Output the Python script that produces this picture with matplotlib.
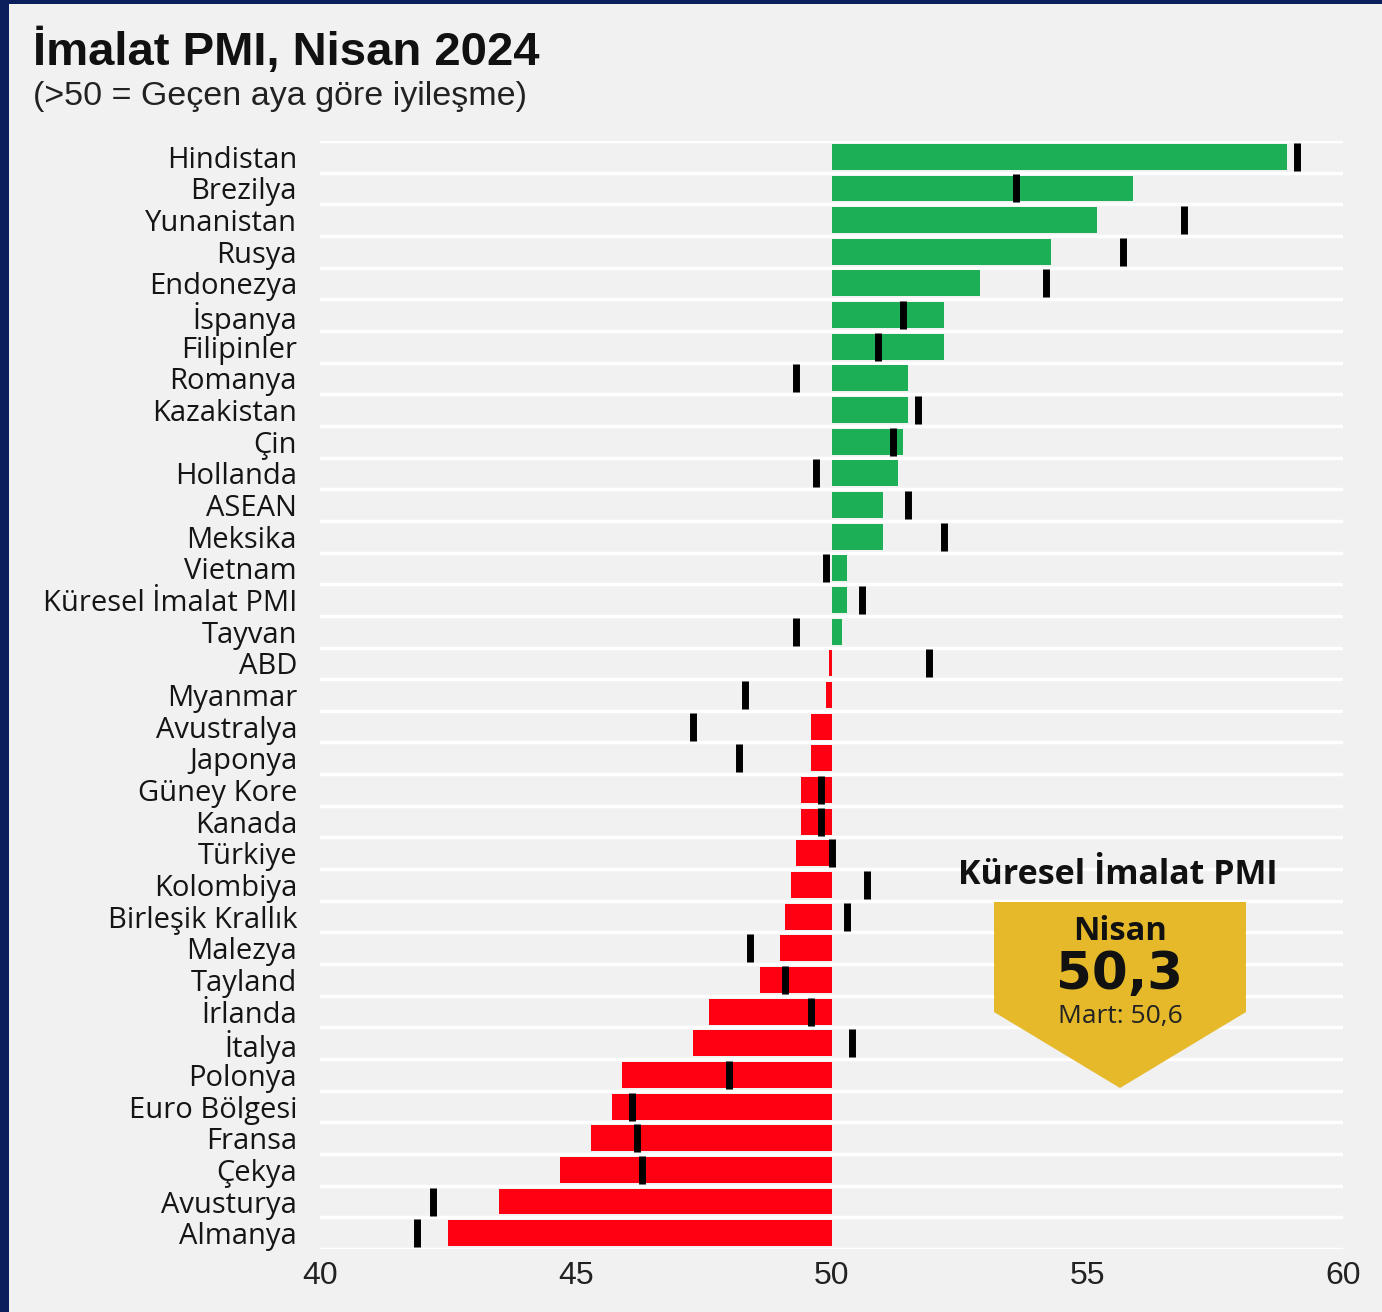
import matplotlib.pyplot as plt
from matplotlib.patches import Polygon, Rectangle
import numpy as np

countries = ["Hindistan", "Brezilya", "Yunanistan", "Rusya", "Endonezya", "İspanya",
             "Filipinler", "Romanya", "Kazakistan", "Çin", "Hollanda", "ASEAN", "Meksika",
             "Vietnam", "Küresel İmalat PMI", "Tayvan", "ABD", "Myanmar", "Avustralya",
             "Japonya", "Güney Kore", "Kanada", "Türkiye", "Kolombiya", "Birleşik Krallık",
             "Malezya", "Tayland", "İrlanda", "İtalya", "Polonya", "Euro Bölgesi", "Fransa",
             "Çekya", "Avusturya", "Almanya"]
april = [58.9, 55.9, 55.2, 54.3, 52.9, 52.2, 52.2, 51.5, 51.5, 51.4, 51.3, 51.0, 51.0,
         50.3, 50.3, 50.2, 49.95, 49.9, 49.6, 49.6, 49.4, 49.4, 49.3, 49.2, 49.1,
         49.0, 48.6, 47.6, 47.3, 45.9, 45.7, 45.3, 44.7, 43.5, 42.5]
march = [59.1, 53.6, 56.9, 55.7, 54.2, 51.4, 50.9, 49.3, 51.7, 51.2, 49.7, 51.5, 52.2,
         49.9, 50.6, 49.3, 51.9, 48.3, 47.3, 48.2, 49.8, 49.8, 50.0, 50.7, 50.3,
         48.4, 49.1, 49.6, 50.4, 48.0, 46.1, 46.2, 46.3, 42.2, 41.9]
xticks = [40, 45, 50, 55, 60]

GREEN = "#1caf55"
RED = "#fe0012"
BG = "#f1f1f1"
NAVY = "#0b1f5c"
label_font = ["Open Sans", "DejaVu Sans"]
cond_font = ["Liberation Sans Narrow", "Liberation Sans", "DejaVu Sans"]

W, H = 1382, 1312
fig = plt.figure(figsize=(W / 100, H / 100), dpi=100, facecolor=NAVY)
fig.patches.append(Rectangle((9 / W, 0), 1, 1 - 4 / H, transform=fig.transFigure,
                             facecolor=BG, edgecolor="none", zorder=-10))

ax = fig.add_axes([320 / W, 1 - 1249 / H, (1343 - 320) / W, (1249 - 141) / H])
ax.set_facecolor(BG)
y = np.arange(len(countries))
a = np.array(april)
colors = [GREEN if v >= 50 else RED for v in a]
ax.barh(y, a - 50, left=50, height=0.82, color=colors, zorder=2)
ax.plot(march, y, linestyle="none", marker="|", markersize=19.5,
        markeredgewidth=5, color="black", zorder=3)

for b in np.arange(-0.5, len(countries), 1.0):
    ax.axhline(b, color="white", lw=2.5, zorder=1)

ax.set_xlim(40, 60)
ax.set_ylim(len(countries) - 0.5, -0.5)
ax.set_xticks(xticks)
ax.set_xticklabels([str(t) for t in xticks], family=cond_font, fontsize=23, color="#222222")
ax.set_yticks(y)
ax.set_yticklabels(countries, family=label_font, fontsize=21, color="#151515")
ax.tick_params(axis="both", length=0)
ax.tick_params(axis="x", pad=9)
ax.tick_params(axis="y", pad=16.5)
for s in ax.spines.values():
    s.set_visible(False)

fig.text(33 / W, 1 - 52 / H, "İmalat PMI, Nisan 2024", family=cond_font,
         fontsize=34, fontweight="bold", va="center", ha="left", color="#111111")
fig.text(33 / W, 1 - 97 / H, "(>50 = Geçen aya göre iyileşme)", family=cond_font,
         fontsize=24.5, va="center", ha="left", color="#222222")

# Global PMI callout
fig.text(1118 / W, 1 - 875 / H, "Küresel İmalat PMI", family=label_font,
         fontsize=24.5, fontweight="bold", ha="center", va="center", color="#111111")
pts = [(994, 902), (1246, 902), (1246, 1012), (1120, 1088), (994, 1012)]
fig.patches.append(Polygon([(px / W, 1 - py / H) for px, py in pts], closed=True,
                           transform=fig.transFigure, facecolor="#e6b92a",
                           edgecolor="none", zorder=5))
fig.text(1120 / W, 1 - 932 / H, "Nisan", family=label_font, fontsize=23.5,
         fontweight="bold", ha="center", va="center", color="#111111", zorder=6)
fig.text(1120 / W, 1 - 975 / H, "50,3", family=["DejaVu Sans"], fontsize=37,
         fontweight="bold", ha="center", va="center", color="#111111", zorder=6)
fig.text(1120 / W, 1 - 1017 / H, "Mart: 50,6", family=label_font, fontsize=19,
         ha="center", va="center", color="#222222", zorder=6)

fig.savefig("out.png", dpi=100, facecolor=NAVY)
